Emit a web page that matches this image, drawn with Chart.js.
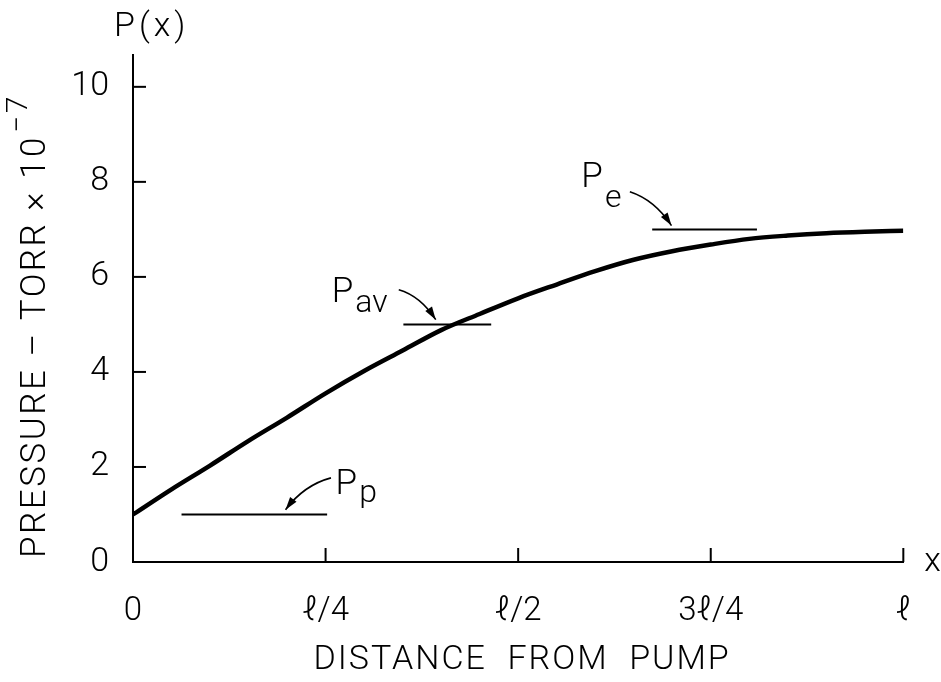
<!DOCTYPE html>
<html>
<head>
<meta charset="utf-8">
<script src="https://cdn.jsdelivr.net/npm/chart.js@4.4.1/dist/chart.umd.min.js"></script>
<style>
  html, body { margin: 0; background: #fff; }
  #wrap { width: 941px; height: 682px; }
</style>
</head>
<body>
<div id="wrap"><canvas id="pressureChart"></canvas></div>
<script>
// distance along the pipe, as a fraction of l
const distance = [0, 0.05, 0.1, 0.15, 0.2, 0.25, 0.3, 0.35, 0.4, 0.45, 0.5,
                  0.55, 0.6, 0.65, 0.7, 0.75, 0.8, 0.85, 0.9, 0.95, 1];
// pressure, torr x 10^-7
const pressure = [1.0, 1.53, 2.03, 2.55, 3.04, 3.55, 4.02, 4.45, 4.88, 5.22, 5.55,
                  5.84, 6.12, 6.36, 6.54, 6.68, 6.8, 6.87, 6.92, 6.95, 6.97];

const xTicks = [0, 0.25, 0.5, 0.75, 1];
const xTickLabels = ['0', 'ℓ/4', 'ℓ/2', '3ℓ/4', 'ℓ'];
const yTicks = [0, 2, 4, 6, 8, 10];

// short level marks: P_p, P_av, P_e
const levelNames = ['p', 'av', 'e'];
const levelValues = [1, 5, 7];
const levelFrom = [0.063, 0.351, 0.674];
const levelTo = [0.252, 0.465, 0.81];

const FONT = "'Roboto', 'DejaVu Sans', sans-serif";

// label + arrow placement, in data units
const notes = [
  { text: [0.263, 1.43], subDy: 8,  from: [0.257, 1.77], ctrl: [0.222, 1.62], to: [0.198, 1.1] },
  { text: [0.258, 5.47], subDy: 10, from: [0.345, 5.73], ctrl: [0.373, 5.6],  to: [0.393, 5.1] },
  { text: [0.582, 7.9],  subDy: 20, from: [0.645, 7.79], ctrl: [0.677, 7.62], to: [0.699, 7.08] }
];

const levelSets = levelValues.map((v, i) => ({
  label: 'P' + levelNames[i],
  data: [{ x: levelFrom[i], y: v }, { x: levelTo[i], y: v }],
  borderColor: '#000',
  borderWidth: 2,
  pointRadius: 0
}));

const decor = {
  id: 'decor',
  afterDraw(chart) {
    const ctx = chart.ctx;
    const xs = chart.scales.x, ys = chart.scales.y;
    const a = chart.chartArea;
    ctx.save();
    ctx.strokeStyle = '#000';
    ctx.fillStyle = '#000';
    ctx.lineWidth = 2;

    // inward tick marks
    yTicks.slice(1).forEach(v => {
      const py = ys.getPixelForValue(v);
      ctx.beginPath(); ctx.moveTo(a.left, py); ctx.lineTo(a.left + 13, py); ctx.stroke();
    });
    xTicks.slice(1).forEach(v => {
      const px = xs.getPixelForValue(v);
      ctx.beginPath(); ctx.moveTo(px, a.bottom); ctx.lineTo(px, a.bottom - 14); ctx.stroke();
    });

    // axis names
    ctx.font = '300 34px ' + FONT;
    ctx.textBaseline = 'middle';
    ctx.textAlign = 'left';
    ctx.letterSpacing = '4px';
    ctx.fillText('P(x)', a.left - 19, a.top - 28);
    ctx.letterSpacing = '0px';
    ctx.fillText('x', a.right + 21, a.bottom);

    ctx.textAlign = 'center';
    ctx.font = '300 34px ' + FONT;
    ctx.letterSpacing = '2px';
    ctx.fillText('DISTANCE  FROM  PUMP', (a.left + a.right) / 2 + 4, a.bottom + 98);

    // rotated y title with superscript
    ctx.save();
    ctx.translate(36, a.bottom - 4);
    ctx.rotate(-Math.PI / 2);
    ctx.textAlign = 'left';
    ctx.font = '300 35px ' + FONT;
    ctx.letterSpacing = '2.5px';
    const main = 'PRESSURE – TORR × 10';
    ctx.fillText(main, 0, 0);
    const w = ctx.measureText(main).width;
    ctx.font = '300 30px ' + FONT;
    ctx.fillText('−7', w + 2, -17);
    ctx.restore();
    ctx.letterSpacing = '0px';

    // P labels and arrows
    notes.forEach((n, i) => {
      const tx = xs.getPixelForValue(n.text[0]), ty = ys.getPixelForValue(n.text[1]);
      ctx.textAlign = 'left';
      ctx.textBaseline = 'alphabetic';
      ctx.font = '300 35px ' + FONT;
      ctx.fillText('P', tx, ty);
      const pw = ctx.measureText('P').width;
      ctx.font = '300 32px ' + FONT;
      ctx.fillText(levelNames[i], tx + pw + 2, ty + n.subDy);

      const fx = xs.getPixelForValue(n.from[0]), fy = ys.getPixelForValue(n.from[1]);
      const cx = xs.getPixelForValue(n.ctrl[0]), cy = ys.getPixelForValue(n.ctrl[1]);
      const ex = xs.getPixelForValue(n.to[0]), ey = ys.getPixelForValue(n.to[1]);
      ctx.lineWidth = 1.6;
      ctx.beginPath(); ctx.moveTo(fx, fy); ctx.quadraticCurveTo(cx, cy, ex, ey); ctx.stroke();
      const ang = Math.atan2(ey - cy, ex - cx);
      const L = 13, W = 4;
      ctx.beginPath();
      ctx.moveTo(ex, ey);
      ctx.lineTo(ex - L * Math.cos(ang) + W * Math.sin(ang), ey - L * Math.sin(ang) - W * Math.cos(ang));
      ctx.lineTo(ex - L * Math.cos(ang) - W * Math.sin(ang), ey - L * Math.sin(ang) + W * Math.cos(ang));
      ctx.closePath();
      ctx.fill();
    });
    ctx.restore();
  }
};

new Chart(document.getElementById('pressureChart'), {
  type: 'line',
  data: {
    datasets: [{
      label: 'P(x)',
      data: distance.map((x, i) => ({ x: x, y: pressure[i] })),
      borderColor: '#000',
      borderWidth: 4.5,
      pointRadius: 0,
      cubicInterpolationMode: 'monotone'
    }, ...levelSets]
  },
  options: {
    responsive: true,
    maintainAspectRatio: false,
    animation: false,
    layout: { padding: { left: 0, right: 34, top: 55, bottom: 0 } },
    plugins: { legend: { display: false }, tooltip: { enabled: false } },
    scales: {
      x: {
        type: 'linear',
        min: 0,
        max: 1,
        afterBuildTicks: s => { s.ticks = xTicks.map(v => ({ value: v })); },
        afterFit: s => { s.height = 120; },
        grid: { display: false, drawTicks: false },
        border: { display: true, color: '#000', width: 2 },
        ticks: {
          padding: 30,
          color: '#000',
          font: { family: FONT, size: 33, weight: '300' },
          maxRotation: 0,
          callback: (v) => xTickLabels[xTicks.indexOf(v)]
        }
      },
      y: {
        min: 0,
        max: 10.67,
        afterBuildTicks: s => { s.ticks = yTicks.map(v => ({ value: v })); },
        afterFit: s => { s.width = 133; },
        grid: { display: false, drawTicks: false },
        border: { display: true, color: '#000', width: 2 },
        ticks: {
          padding: 24,
          color: '#000',
          font: { family: FONT, size: 34, weight: '300' }
        }
      }
    }
  },
  plugins: [decor]
});
</script>
</body>
</html>
